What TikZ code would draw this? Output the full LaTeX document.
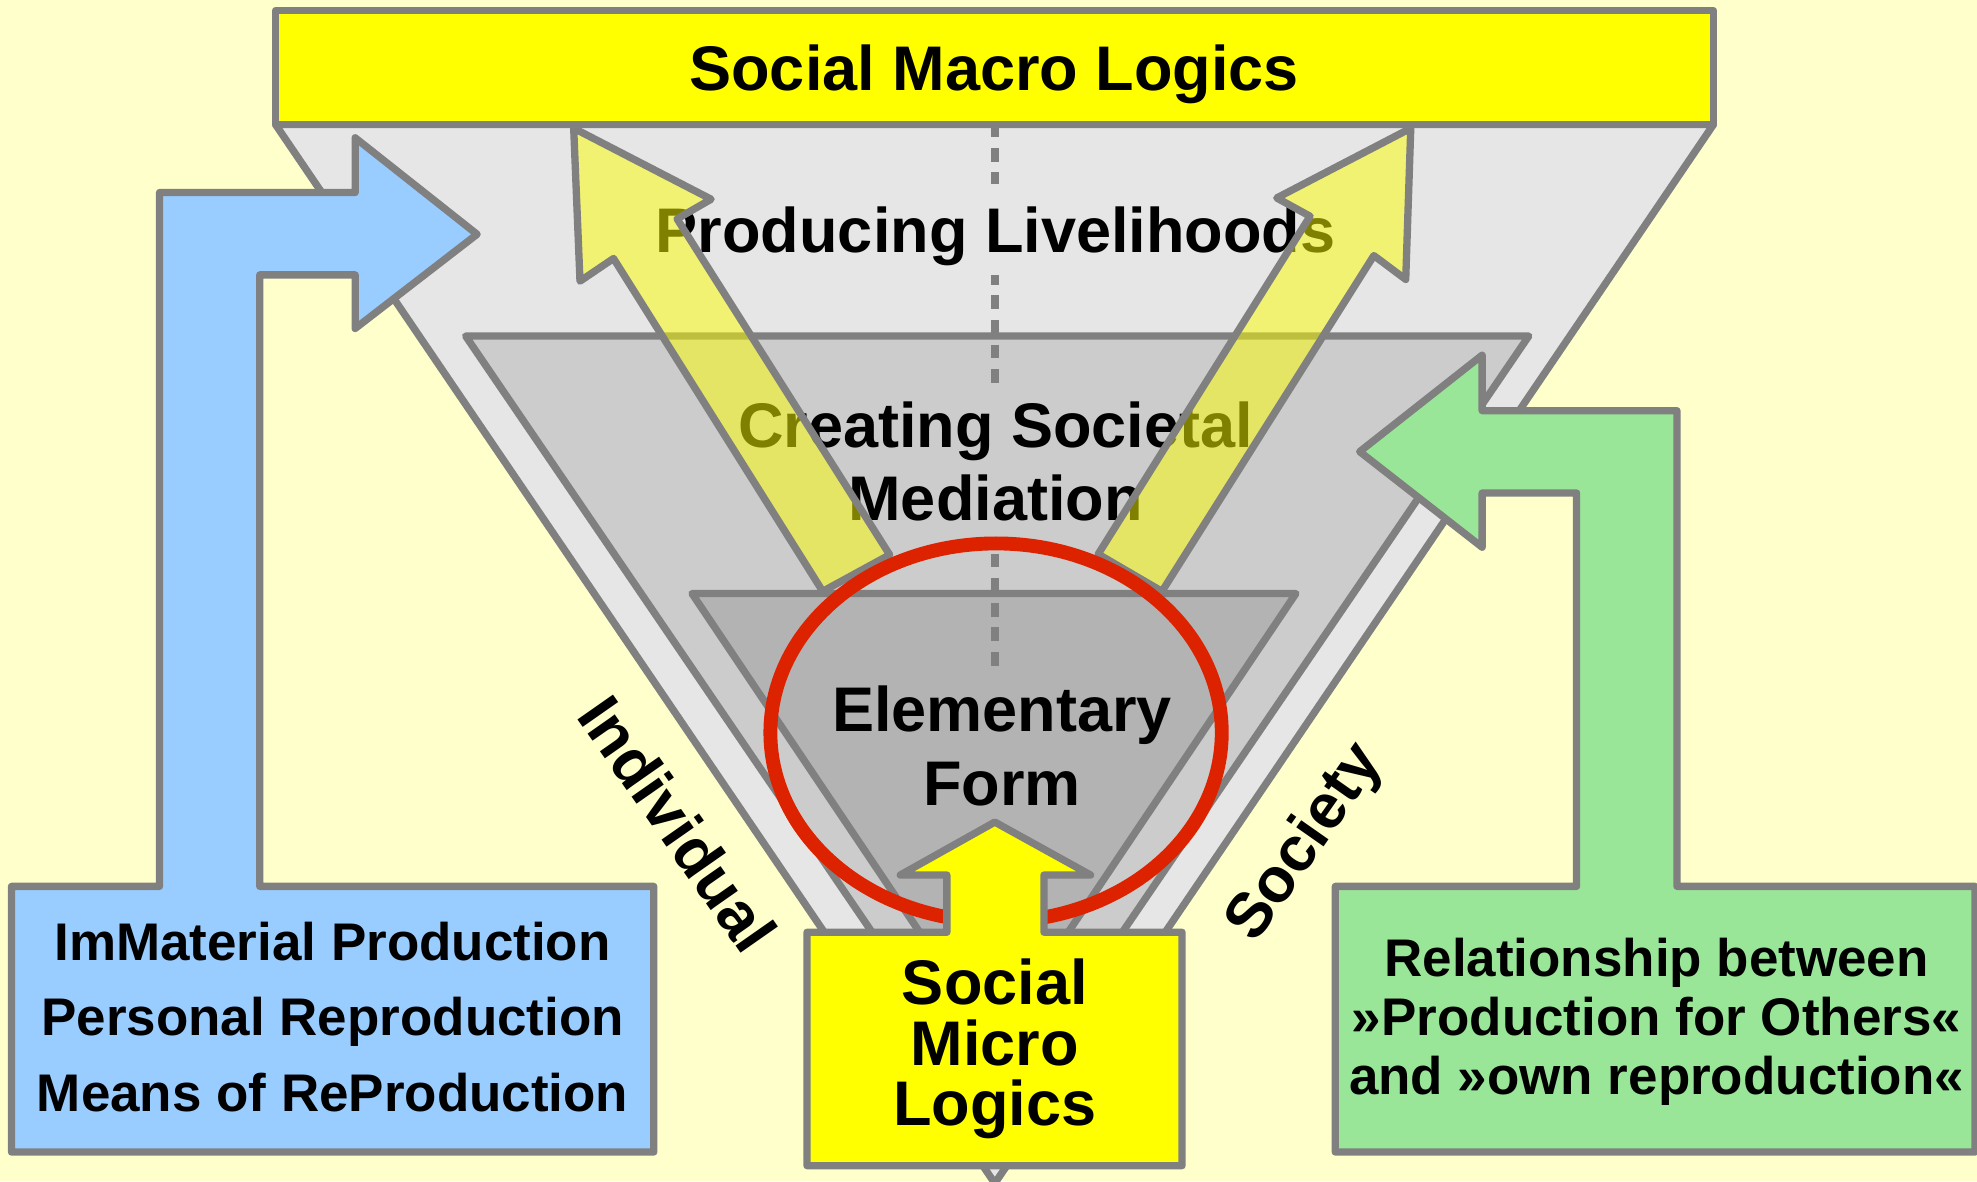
\documentclass[tikz,border=0pt]{standalone}
\usepackage{fontspec}
\setmainfont{Liberation Sans}
\definecolor{bgc}{HTML}{FFFFCC}
\definecolor{ygc}{HTML}{FFFF00}
\definecolor{lnc}{HTML}{808080}
\definecolor{fa}{HTML}{E6E6E6}
\definecolor{fb}{HTML}{CCCCCC}
\definecolor{fc}{HTML}{B3B3B3}
\definecolor{blc}{HTML}{99CCFF}
\definecolor{grc}{HTML}{99E699}
\definecolor{rdc}{HTML}{DD2200}
\tikzset{
  gline/.style={draw=lnc, line width=5.8pt, line join=round},
  dashln/.style={draw=lnc, line width=6pt, dash pattern=on 11pt off 8.5pt},
  lbl/.style={font=\bfseries\fontsize{50}{60}\selectfont, inner sep=0pt, anchor=base},
  sml/.style={font=\bfseries\fontsize{42}{50}\selectfont, inner sep=0pt, anchor=base},
  rot/.style={font=\bfseries\fontsize{50}{60}\selectfont, inner sep=0pt, anchor=center},
}
\begin{document}
\begin{tikzpicture}[x=1pt,y=-1pt]
\useasboundingbox (0,0) rectangle (1568,937);
\fill[bgc] (0,0) rectangle (1568,937);
% funnels
\draw[gline, fill=fa] (218.5,98.7) -- (1359,98.7) -- (789,938.5) -- cycle;
\draw[gline, fill=fb] (369.3,266.5) -- (1212.5,266.5) -- (790.9,885) -- cycle;
\draw[gline, fill=fc] (548.8,470.7) -- (1027.8,470.7) -- (788.3,827) -- cycle;
% dashed axis
\draw[dashln] (789,97.8) -- (789,146);
\draw[dashln, dash phase=3.7pt] (789,218.5) -- (789,304);
\draw[dashln, dash phase=8.45pt] (789,428) -- (789,536);
% top box
\draw[gline, fill=ygc] (218.5,8.5) rectangle (1359,98.7);
\node[lbl] (macro) at (788.5,72) {Social Macro Logics};
% funnel texts
\node[lbl] (prod) at (789.6,200.3) {Producing Livelihoods};
\node[lbl] (creat1) at (789.6,355.1) {Creating Societal};
\node[lbl] (creat2) at (789.6,412.8) {Mediation};
\node[lbl] (elem1) at (794.7,580.3) {Elementary};
\node[lbl] (elem2) at (794.7,638.5) {Form};
% blue arrow and box
\draw[gline, fill=blc] (9.1,703) -- (126.5,703) -- (126.5,152.7) -- (281.7,152.7)
  -- (281.7,109.3) -- (378.4,185.8) -- (281.7,260.5) -- (281.7,218) -- (206,218)
  -- (206,703) -- (518.5,703) -- (518.5,913.7) -- (9.1,913.7) -- cycle;
% green arrow and box
\draw[gline, fill=grc] (1059,703) -- (1250.4,703) -- (1250.4,391) -- (1175.5,391)
  -- (1175.5,434) -- (1078.4,358.2) -- (1175.5,281.7) -- (1175.5,325.7) -- (1330,325.7)
  -- (1330,703) -- (1566.5,703) -- (1566.5,913.7) -- (1059,913.7) -- cycle;
% translucent yellow arrows
\draw[gline, fill=ygc, fill opacity=0.5] (652.5,469) -- (486.6,205) -- (460,223)
  -- (455,101.7) -- (564,158) -- (537,173.6) -- (705.6,440) -- cycle;
\draw[gline, fill=ygc, fill opacity=0.5] (921.6,469) -- (1089.6,202.7) -- (1114.9,221.6)
  -- (1118.9,101.7) -- (1012.6,157) -- (1039,171.5) -- (871,439.5) -- cycle;
% red ellipse
\draw[draw=rdc, line width=11pt] (790,581) ellipse [x radius=179, y radius=150];
% social micro arrow box
\draw[gline, fill=ygc] (640,739.4) -- (751,739.4) -- (751,694) -- (714,694) -- (789,652)
  -- (865,694) -- (828,694) -- (828,739.4) -- (937.5,739.4) -- (937.5,924.5)
  -- (640,924.5) -- cycle;
\node[lbl] (micro1) at (789,797) {Social};
\node[lbl] (micro2) at (789,844.7) {Micro};
\node[lbl] (micro3) at (789,892.6) {Logics};
% blue box text
\node[sml] (bl1) at (263.8,762.1) {ImMaterial Production};
\node[sml] (bl2) at (263.8,821.3) {Personal Reproduction};
\node[sml] (bl3) at (263.8,881.4) {Means of ReProduction};
% green box text
\node[sml] (gr1) at (1313.8,774.3) {Relationship between};
\node[sml] (gr2) at (1313.8,821.3) {»Production for Others«};
\node[sml] (gr3) at (1313.8,868.3) {and »own reproduction«};
% side labels
\node[rot, rotate=-55] (indiv) at (537.6,653.3) {Individual};
\node[rot, rotate=55] (soc) at (1036,669) {Society};
\end{tikzpicture}
\end{document}
